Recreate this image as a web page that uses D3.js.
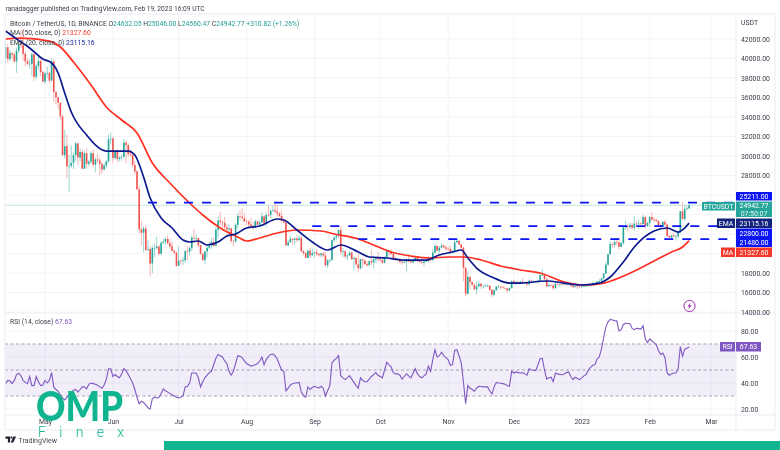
<!DOCTYPE html>
<html>

<head>
  <meta charset="utf-8">
  <script src="https://d3js.org/d3.v7.min.js"></script>
  <style>
    body { margin: 0; background: #fff; }
    svg { display: block; filter: blur(0.35px); }
    text { font-family: Roboto, "Liberation Sans", sans-serif; }
    .axis text { font-size: 6.9px; fill: #3a3e4a; }
  </style>
</head>

<body>
  <svg id="chart" width="780" height="450"></svg>
  <script>
    // daily candles, starting 13 Apr 2022
    const firstDay = "2022-04-13";
    const firstOpen = 40080;

    const closes = [
      41150, 39940, 40550, 40400, 39700, 40800, 41500, 41360, 40480, 39710, 39450, 39450, 40430, 38120, 39240, 39740, 38600, 37630,
      38470, 38530, 37730, 39690, 36550, 36010, 35470, 34040, 30080, 31010, 28940, 28990, 29290, 30100, 31300, 29850, 30420, 28700, 30300, 29200, 29430, 30280, 29100, 29650, 29540, 29200, 28620, 29020, 29460, 31720, 31790,
      29800, 30450, 29700, 29860, 29900, 31370, 31130, 30200, 30110, 29080, 28420, 26570, 22480, 22130, 22570, 20380, 20450, 18970, 20560, 20570, 20720, 19970, 21100, 21230, 21490, 21040, 20730, 20280, 20100, 18730,
      19270, 19240, 19300, 20230, 20190, 20550, 21630, 21590, 21590, 20850, 19960, 19320, 20210, 20580, 20830, 21190, 20780, 22430, 23390, 23220, 23150, 22680, 22450, 22580, 21300, 21240, 22930, 23840, 23770, 23640, 23290,
      23260, 22980, 22810, 22620, 23310, 22960, 23180, 23810, 23150, 23950, 23930, 24400, 24440, 24310, 24100, 23850, 23340, 23190, 20830, 21140, 21520, 21400, 21530, 21370, 21560, 20240, 20040, 19550, 20280, 19800, 20050,
      20130, 19950, 19830, 20000, 19800, 18790, 19290, 19320, 21360, 21650, 21830, 22400, 20170, 20230, 19700, 19800, 20110, 19420, 19540, 18880, 18480, 19400, 19290, 18920, 18800, 19220, 19080, 19410, 19590, 19420,
      19310, 19050, 19620, 20340, 20160, 19950, 19530, 19420, 19440, 19130, 19060, 19155, 19380, 19180, 19070, 19260, 19550, 19330, 19120, 19040, 19165, 19200, 19570, 19330, 20090, 20770, 20300, 20600, 20820, 20630, 20490,
      20480, 20150, 20210, 21150, 21300, 20920, 20600, 18540, 15880, 17600, 17070, 16800, 16330, 16620, 16900, 16660, 16690, 16700, 16700, 16280, 15780, 16230, 16600, 16600, 16520, 16460, 16430, 16210, 16440, 17160,
      16980, 17090, 16890, 17110, 16970, 17090, 16840, 17220, 17130, 17130, 17080, 17210, 17780, 17810, 17360, 16630, 16780, 16740, 16440, 16900, 16820, 16830, 16780, 16840, 16830, 16920, 16700, 16550, 16630, 16600, 16540,
      16620, 16680, 16680, 16850, 16830, 16950, 16940, 17120, 17180, 17440, 17940, 18850, 19930, 20960, 20880, 21190, 21130, 20680, 21080, 22670, 22780, 22710, 22920, 22630, 23060, 23010, 23080, 23030, 23740, 22830, 23130,
      23730, 23490, 23430, 23330, 22930, 22760, 23240, 22960, 21800, 21630, 21860, 21780, 21780, 22200, 24330, 23520, 24570, 24630, 24942.77
    ];

    const highs = [
      41560, 41500, 40880, 40700, 40620, 41130, 41760, 42980, 42980, 40800, 39980, 39930, 40620, 40800, 39460, 40400, 39930, 38800,
      38670, 39170, 38650, 40020, 39840, 36680, 36140, 35510, 34240, 32660, 32160, 30100, 31080, 30340, 31430, 31300, 30780, 30660, 30540, 30770, 29600, 30470, 30660, 29830, 30220, 29850, 29380, 29250, 29550, 32200, 32400,
      31980, 30640, 30690, 29950, 30170, 31770, 31550, 31330, 30700, 30340, 29440, 28550, 26900, 23340, 22800, 22980, 21360, 20780, 20830, 21050, 21720, 20860, 21230, 21520, 21600, 21870, 21520, 21190, 20410, 20140,
      20750, 19430, 19650, 20360, 20750, 20670, 21840, 22500, 21950, 21600, 20860, 20050, 20250, 20880, 21190, 21580, 21690, 22720, 23800, 24280, 23430, 23750, 22990, 22990, 22650, 21350, 23100, 24200, 24440, 24670, 24180,
      23510, 23470, 23650, 23220, 23460, 23350, 23400, 24240, 23920, 24220, 24920, 24450, 24890, 25210, 25050, 24250, 24450, 23600, 23200, 21380, 21800, 21530, 21680, 21900, 21820, 21880, 20350, 20150, 20430, 20580, 20490,
      20210, 20450, 20050, 20060, 20160, 20180, 19460, 19460, 21450, 21800, 21860, 22490, 22800, 20550, 20330, 19900, 20190, 20100, 19690, 19630, 19950, 19500, 19500, 19310, 19180, 19310, 20380, 19790, 19650, 20180,
      19480, 19400, 19720, 20480, 20360, 20450, 20060, 19610, 19560, 19520, 19270, 19220, 19510, 19950, 19210, 19420, 19680, 19700, 19350, 19350, 19250, 19260, 19700, 19600, 20410, 21020, 20870, 20750, 21080, 20930, 20840,
      20700, 20800, 20390, 21480, 21470, 21360, 21060, 20670, 18590, 18160, 17650, 17080, 16930, 17190, 17130, 17000, 16750, 16880, 16820, 16750, 16290, 16310, 16680, 16810, 16610, 16700, 16600, 16480, 16530, 17250,
      17320, 17100, 17160, 17200, 17420, 17110, 17140, 17300, 17300, 17230, 17270, 17240, 18000, 18390, 17850, 17530, 16800, 16860, 16820, 17060, 16920, 16870, 16950, 16870, 16860, 16950, 16970, 16780, 16660, 16650, 16640,
      16630, 16760, 16780, 17000, 16900, 17040, 16970, 17180, 17400, 17490, 18000, 19120, 20000, 21260, 21050, 21470, 21600, 21650, 21190, 22750, 23370, 23080, 23170, 23160, 23820, 23290, 23500, 23180, 23960, 23800, 23310,
      23810, 24250, 23720, 23590, 23430, 23160, 23360, 23450, 23010, 21940, 21900, 22080, 21900, 22320, 24360, 25250, 25020, 24880, 25046
    ];

    const lows = [
      39570, 39550, 39770, 39990, 39550, 38540, 40570, 41070, 39750, 39180, 39280, 38930, 38200, 37700, 37880, 38880, 38170, 37580,
      37390, 38050, 37510, 37670, 35570, 35260, 34780, 33710, 30030, 29730, 27700, 26350, 28750, 28660, 29480, 29090, 29440, 28650, 28680, 28730, 28930, 29220, 28850, 28300, 29290, 28020, 28200, 28450, 28810, 29300, 31210,
      29300, 29590, 29330, 29440, 29500, 29880, 29220, 29850, 29950, 28850, 28100, 26560, 22070, 20830, 20110, 20230, 20240, 17620, 17960, 19640, 20350, 19770, 19890, 20940, 20920, 20950, 20520, 20180, 19850, 18630,
      18970, 18960, 18780, 19040, 19300, 19760, 20240, 21180, 21320, 20650, 19880, 19240, 18910, 19620, 20390, 20490, 20760, 20760, 21580, 22900, 22340, 22430, 21930, 22010, 21040, 20710, 21040, 22580, 23430, 23500, 23230,
      22850, 22660, 22680, 22430, 22590, 22920, 22840, 23150, 22880, 22660, 23850, 23600, 24300, 24160, 23770, 23670, 23180, 23100, 20760, 20760, 21110, 20890, 20890, 21160, 21310, 20110, 19800, 19520, 19540, 19540, 19800,
      19560, 19750, 19650, 19600, 19640, 18650, 18530, 19010, 19300, 21110, 21350, 21560, 19860, 19620, 19500, 19320, 19750, 19340, 18230, 18730, 18130, 18360, 18530, 18820, 18630, 18680, 18820, 18470, 19010, 19160,
      19160, 18920, 18960, 19500, 19730, 19860, 19320, 19260, 19310, 19020, 18860, 19020, 18190, 19070, 18980, 19060, 19160, 19100, 19060, 18900, 18650, 19110, 19070, 19160, 19240, 20050, 20200, 20000, 20550, 20530, 20250,
      20350, 20050, 20030, 20170, 21080, 20880, 20380, 17170, 15590, 15750, 16360, 16680, 16230, 15820, 16530, 16400, 16400, 16560, 16550, 16170, 15480, 15620, 16170, 16460, 16330, 16400, 16400, 15990, 16110, 16430,
      16860, 16790, 16860, 16880, 16870, 16910, 16680, 16740, 17060, 17090, 17070, 16870, 17080, 17660, 17280, 16530, 16580, 16670, 16260, 16400, 16720, 16560, 16750, 16780, 16730, 16790, 16590, 16470, 16490, 16330, 16470,
      16500, 16550, 16610, 16650, 16760, 16680, 16910, 16910, 17100, 17150, 17320, 17920, 18720, 19880, 20550, 20600, 20820, 20400, 20660, 20860, 22420, 22290, 22500, 22460, 22320, 22850, 22530, 22880, 23000, 22550, 22730,
      22760, 23360, 23200, 23250, 22750, 22630, 22740, 22690, 21690, 21450, 21600, 21630, 21350, 21530, 22050, 23510, 23340, 24450, 24560
    ];

    const emaDates = [
      "2022-04-13", "2022-04-20", "2022-04-24", "2022-04-30", "2022-05-04", "2022-05-07", "2022-05-10", "2022-05-13", "2022-05-20", "2022-05-29",
      "2022-06-03", "2022-06-08", "2022-06-11", "2022-06-15", "2022-06-18", "2022-06-23", "2022-06-28", "2022-07-03", "2022-07-06", "2022-07-10",
      "2022-07-14", "2022-07-19", "2022-07-23", "2022-07-27", "2022-08-01", "2022-08-07", "2022-08-15", "2022-08-18", "2022-08-24", "2022-08-31",
      "2022-09-07", "2022-09-13", "2022-09-21", "2022-09-26", "2022-10-04", "2022-10-11", "2022-10-22", "2022-10-28", "2022-11-03", "2022-11-07",
      "2022-11-10", "2022-11-14", "2022-11-22", "2022-11-29", "2022-12-04", "2022-12-16", "2022-12-24", "2022-12-31", "2023-01-09", "2023-01-14",
      "2023-01-20", "2023-01-25", "2023-02-03", "2023-02-09", "2023-02-14", "2023-02-17", "2023-02-19"
    ];
    const emaValues = [
      42820, 41690, 41080, 39950, 39540, 38510, 36460, 34510, 32150, 30510,
      30510, 30510, 30100, 27850, 25690, 23640, 22615, 21380, 21180, 21280,
      20870, 21180, 21800, 22000, 22615, 22820, 23540, 23440, 22410, 21180,
      20360, 20870, 20150, 19640, 19540, 19330, 19330, 19850, 20150, 20360,
      19540, 18510, 17490, 16970, 16970, 17180, 16970, 16770, 16970, 17590,
      19130, 20670, 22310, 22615, 22200, 22615, 23115
    ];

    const maDates = [
      "2022-04-13", "2022-04-20", "2022-05-03", "2022-05-08", "2022-05-14", "2022-05-22", "2022-05-29", "2022-06-05", "2022-06-12", "2022-06-19",
      "2022-06-27", "2022-07-06", "2022-07-12", "2022-07-20", "2022-07-28", "2022-08-01", "2022-08-07", "2022-08-15", "2022-08-24", "2022-09-04",
      "2022-09-10", "2022-09-21", "2022-09-28", "2022-10-06", "2022-10-15", "2022-10-24", "2022-11-01", "2022-11-08", "2022-11-16", "2022-11-25",
      "2022-12-04", "2022-12-13", "2022-12-24", "2023-01-02", "2023-01-11", "2023-01-19", "2023-01-27", "2023-02-03", "2023-02-11", "2023-02-16",
      "2023-02-19"
    ];
    const maValues = [
      42000, 42100, 41790, 41180, 39640, 37280, 35025, 33690, 32360, 29280,
      27230, 25180, 23950, 22615, 21690, 21280, 21590, 22100, 22410, 22310,
      22000, 21490, 20870, 20150, 19740, 19540, 19640, 19640, 19330, 18720,
      18310, 18000, 17080, 16770, 16970, 17590, 18410, 19230, 20150, 20670,
      21327
    ];

    // one reading a day, same days as the candles
    const rsiValues = [
      39.5, 42, 41.5, 39.5, 42, 46.5, 47.5, 45.5, 42, 40.5, 39.5, 45, 38, 38, 45, 41, 38, 38.5, 42, 40,
      42, 48, 37, 35, 33.6, 31, 28.5, 27, 29, 31, 33, 34.5, 35, 33, 35, 37, 37, 35.5, 39, 40,
      39.5, 39, 38.2, 37, 36, 38.5, 43, 51, 51, 45, 46.5, 45, 44, 47, 51, 49.5, 46.5, 43.5, 40, 35,
      29, 24, 26, 25, 23, 21, 20, 28, 29, 28.5, 29, 32, 35.4, 34, 33, 32, 31, 30, 29, 28.5,
      29, 30, 37, 37.3, 40, 47.7, 47.7, 47.7, 44, 37, 41, 44, 46, 48, 49, 54, 59, 62, 61, 60,
      57, 55, 49, 46, 49, 55, 61, 60.5, 59.5, 57, 55, 54, 53, 53.5, 54, 55, 56.7, 60, 54, 58,
      60.5, 62, 62.3, 61, 58.5, 54, 50, 49, 34, 36, 38.5, 39.5, 40, 40, 40.5, 33, 30.5, 29, 37, 35,
      36.5, 37.5, 36.8, 36, 37.5, 36, 30, 34, 38, 55.4, 57.5, 59, 61, 45.6, 44, 42.6, 44, 45.6, 43, 40.5,
      38, 36, 44, 42, 41, 41, 43, 45, 46.5, 48, 46, 45, 44, 50, 56, 54, 52.5, 48, 47, 47,
      46, 43, 45, 47, 45.5, 44, 47.5, 51, 47, 45, 44, 45.5, 47, 53, 49, 58, 65.6, 60, 61, 63.6,
      61, 59.5, 58, 53.6, 54, 65, 65.6, 61, 55.4, 41, 24, 38, 36, 35, 33.6, 36, 37.5, 37.3, 37, 37,
      37, 34, 31.5, 37, 40.5, 40, 39.8, 39.5, 39, 38, 37.5, 49, 47.7, 48.5, 48, 47.7, 48, 47, 46, 51,
      50, 49.8, 49.5, 54, 58.7, 59, 50, 43, 44, 44.5, 41, 47.7, 47, 46.6, 46.4, 47, 48, 48.5, 45, 42.6,
      44.4, 43.5, 42.6, 44, 45.5, 46.5, 50, 52, 53.6, 54, 58.5, 60, 66, 75, 83, 87, 89, 88.5, 88, 87.8,
      80, 81, 85, 86, 85.8, 85.6, 82, 81, 82, 81.8, 81.5, 84, 74, 71, 74, 72.5, 70.8, 69.5, 65, 62,
      63, 59.5, 47.7, 46, 47, 47.7, 47.7, 51, 68, 60.5, 66, 66.8, 67.63
    ];

    const priceTicks = [14000, 16000, 18000, 28000, 30000, 32000, 34000, 36000, 38000, 40000, 42000];
    const gridPrices = d3.range(14000, 44000, 2000);
    const rsiTicks = [20, 40, 60, 80];
    const rsiBands = [70, 50, 30];
    const timeTicks = ["2022-05-01", "2022-06-01", "2022-07-01", "2022-08-01", "2022-09-01", "2022-10-01", "2022-11-01", "2022-12-01", "2023-01-01", "2023-02-01", "2023-03-01"];
    const timeLabels = ["May", "Jun", "Jul", "Aug", "Sep", "Oct", "Nov", "Dec", "2023", "Feb", "Mar"];

    // horizontal levels: price and the day each one starts
    const levelPrices = [25211, 22800, 21480];
    const levelStarts = ["2022-06-17", "2022-08-31", "2022-09-21"];

    const lastPrice = 24942.77;

    const svg = d3.select("#chart");
    const left = 5, right = 736, outer = 775;
    const top_ = 14, mainBottom = 313, rsiBottom = 415, timeBottom = 430;

    const parseDay = d3.utcParse("%Y-%m-%d");
    const x = d3.scaleUtc()
      .domain([parseDay("2022-05-01"), parseDay("2023-03-01")])
      .range([45, 711]);
    const y = d3.scaleLinear().domain([14000, 42000]).range([312, 39]);
    const yRsi = d3.scaleLinear().domain([20, 80]).range([409, 331]);

    const start = parseDay(firstDay);
    const candles = closes.map((c, i) => ({
      date: d3.utcDay.offset(start, i),
      open: i === 0 ? firstOpen : closes[i - 1],
      close: c,
      high: highs[i],
      low: lows[i]
    }));

    const defs = svg.append("defs");
    defs.append("clipPath").attr("id", "mainClip").append("rect")
      .attr("x", left).attr("y", top_).attr("width", right - left).attr("height", mainBottom - top_);

    // grid
    const grid = svg.append("g").attr("stroke", "#f3f4f8").attr("stroke-width", 1);
    grid.selectAll(".gy").data(gridPrices).join("line")
      .attr("x1", left).attr("x2", right)
      .attr("y1", d => y(d)).attr("y2", d => y(d));
    grid.selectAll(".gr").data(rsiTicks).join("line")
      .attr("x1", left).attr("x2", right)
      .attr("y1", d => yRsi(d)).attr("y2", d => yRsi(d));
    grid.selectAll(".gx").data(timeTicks).join("line")
      .attr("x1", d => x(parseDay(d))).attr("x2", d => x(parseDay(d)))
      .attr("y1", top_).attr("y2", rsiBottom);

    // last price line
    svg.append("line")
      .attr("x1", left).attr("x2", right)
      .attr("y1", y(lastPrice)).attr("y2", y(lastPrice))
      .attr("stroke", "#c4e8e2").attr("stroke-width", 1);

    const main = svg.append("g").attr("clip-path", "url(#mainClip)");

    // wicks and bodies
    main.selectAll(".wick").data(candles).join("line")
      .attr("x1", d => x(d.date)).attr("x2", d => x(d.date))
      .attr("y1", d => y(d.high)).attr("y2", d => y(d.low))
      .attr("stroke", d => d.close >= d.open ? "#7fcdc4" : "#f8a5a3")
      .attr("stroke-width", 0.8);
    main.selectAll(".body").data(candles).join("rect")
      .attr("x", d => x(d.date) - 0.8)
      .attr("width", 1.6)
      .attr("y", d => y(Math.max(d.open, d.close)))
      .attr("height", d => Math.max(0.6, Math.abs(y(d.open) - y(d.close))))
      .attr("fill", d => d.close >= d.open ? "#26a69a" : "#ef5350");

    // moving averages
    const curve = d3.line()
      .x(d => x(d[0])).y(d => y(d[1]))
      .curve(d3.curveMonotoneX);
    main.append("path")
      .attr("d", curve(maDates.map((d, i) => [parseDay(d), maValues[i]])))
      .attr("fill", "none").attr("stroke", "#ff2f22").attr("stroke-width", 1.7);
    main.append("path")
      .attr("d", curve(emaDates.map((d, i) => [parseDay(d), emaValues[i]])))
      .attr("fill", "none").attr("stroke", "#0b1a8e").attr("stroke-width", 1.7);

    // dashed levels
    main.selectAll(".level").data(levelPrices).join("line")
      .attr("x1", (d, i) => x(parseDay(levelStarts[i]))).attr("x2", right)
      .attr("y1", d => y(d)).attr("y2", d => y(d))
      .attr("stroke", "#0a14f5").attr("stroke-width", 1.8)
      .attr("stroke-dasharray", "9 9");

    // RSI panel
    svg.append("rect")
      .attr("x", left).attr("width", right - left)
      .attr("y", yRsi(70)).attr("height", yRsi(30) - yRsi(70))
      .attr("fill", "#7e57c2").attr("fill-opacity", 0.1);
    svg.selectAll(".band").data(rsiBands).join("line")
      .attr("x1", left).attr("x2", right)
      .attr("y1", d => yRsi(d)).attr("y2", d => yRsi(d))
      .attr("stroke", "#8f8a9e").attr("stroke-width", 0.8)
      .attr("stroke-dasharray", "3 2.5");
    svg.append("path")
      .attr("d", d3.line().x(d => x(d[0])).y(d => yRsi(d[1]))(rsiValues.map((v, i) => [candles[i].date, v])))
      .attr("fill", "none").attr("stroke", "#7e57c2").attr("stroke-width", 1.1);

    // panel frames
    const frame = svg.append("g").attr("stroke", "#eceef3").attr("stroke-width", 1.2);
    frame.append("rect").attr("x", left).attr("y", top_).attr("width", outer - left).attr("height", timeBottom - top_).attr("fill", "none");
    frame.append("line").attr("x1", left).attr("x2", outer).attr("y1", mainBottom).attr("y2", mainBottom);
    frame.append("line").attr("x1", left).attr("x2", outer).attr("y1", rsiBottom).attr("y2", rsiBottom);
    frame.append("line").attr("x1", right).attr("x2", right).attr("y1", top_).attr("y2", timeBottom);

    // axes
    const priceAxis = d3.axisRight(y).tickValues(priceTicks).tickSize(0).tickPadding(5).tickFormat(d3.format(".2f"));
    svg.append("g").attr("class", "axis").attr("transform", `translate(${right},0)`).call(priceAxis)
      .call(g => g.select(".domain").remove());
    const rsiAxis = d3.axisRight(yRsi).tickValues(rsiTicks).tickSize(0).tickPadding(5).tickFormat(d3.format(".2f"));
    svg.append("g").attr("class", "axis").attr("transform", `translate(${right},0)`).call(rsiAxis)
      .call(g => g.select(".domain").remove());
    const timeAxis = d3.axisBottom(x)
      .tickValues(timeTicks.map(parseDay)).tickSize(0).tickPadding(4)
      .tickFormat((d, i) => timeLabels[i]);
    svg.append("g").attr("class", "axis").attr("transform", `translate(0,${rsiBottom})`).call(timeAxis)
      .call(g => g.select(".domain").remove());

    // header texts
    const label = (px, py, parts, size) => {
      const t = svg.append("text").attr("x", px).attr("y", py).attr("font-size", size || 6.8);
      parts.forEach(p => t.append("tspan").attr("fill", p[1]).text(p[0]));
      return t;
    };
    const ink = "#3a3e4a", up = "#1f9d8f";
    label(5.5, 11, [["ranadagger published on TradingView.com, Feb 19, 2023 16:09 UTC", ink]], 6.67);
    label(10, 26, [
      ["Bitcoin / TetherUS, 1D, BINANCE  ", ink], ["O", ink], ["24632.05 ", up], ["H", ink], ["25046.00 ", up],
      ["L", ink], ["24560.47 ", up], ["C", ink], ["24942.77 ", up], ["+310.82 (+1.26%)", up]
    ], 6.77);
    label(10, 35, [["MA (50, close, 0)  ", ink], ["21327.60", "#f23b30"]]);
    label(10, 45, [["EMA (20, close, 0)  ", ink], ["23115.16", "#12249a"]]);
    label(10, 324, [["RSI (14, close)  ", ink], ["67.63", "#7e57c2"]]);
    label(741, 25, [["USDT", ink]], 6.9);

    // price tags on the right
    const tag = (x0, x1, y0, y1, fill, text) => {
      svg.append("rect").attr("x", x0).attr("y", y0).attr("width", x1 - x0).attr("height", y1 - y0).attr("fill", fill);
      svg.append("text").attr("x", (x0 + x1) / 2).attr("y", (y0 + y1) / 2 + 2.5)
        .attr("text-anchor", "middle").attr("font-size", 6.9).attr("fill", "#fff").text(text);
    };
    tag(736, 772, 192, 200.5, "#0a14f5", "25211.00");
    tag(702, 735, 202, 210.5, "#26a69a", "BTCUSDT");
    tag(736, 772, 201.5, 217, "#26a69a", "");
    svg.append("text").attr("x", 754).attr("y", 208).attr("text-anchor", "middle").attr("font-size", 6.9).attr("fill", "#fff").text("24942.77");
    svg.append("text").attr("x", 754).attr("y", 215.5).attr("text-anchor", "middle").attr("font-size", 6.9).attr("fill", "#e5f5f2").text("07:50:07");
    tag(717, 735, 218.5, 228, "#12237f", "EMA");
    tag(736, 772, 218.5, 228, "#12237f", "23115.16");
    tag(736, 772, 228.5, 238, "#0a14f5", "22800.00");
    tag(736, 772, 238, 247, "#0a14f5", "21480.00");
    tag(721, 735, 247.5, 257, "#f4382c", "MA");
    tag(736, 772, 247.5, 257, "#f4382c", "21327.60");
    tag(720, 735, 342, 351.5, "#7e57c2", "RSI");
    tag(736, 761, 342, 351.5, "#7e57c2", "67.63");

    // lightning marker
    const bolt = svg.append("g").attr("transform", "translate(689.5,306)");
    bolt.append("circle").attr("r", 5.6).attr("fill", "#fff").attr("stroke", "#9c27b0").attr("stroke-width", 1);
    bolt.append("path").attr("d", "M1.2,-3.4 L-2,0.6 L-0.2,0.6 L-1.2,3.4 L2,-0.8 L0.2,-0.8 Z").attr("fill", "#9c27b0");

    // TradingView mark
    const tv = svg.append("g").attr("transform", "translate(5.5,436.5)").attr("fill", "#1e222d");
    tv.append("path").attr("d", "M0,0 H4.6 V6 H2.4 V2.2 H0 Z");
    tv.append("circle").attr("cx", 6).attr("cy", 1.1).attr("r", 1.1);
    tv.append("path").attr("d", "M8,0 H10.6 L7.8,6 H5.2 Z");
    label(18.5, 443, [["TradingView", "#444954"]], 7);

    // OMP Finex watermark and footer band
    const brand = "#10b58f";
    svg.append("rect").attr("x", 164).attr("y", 441).attr("width", 616).attr("height", 9).attr("fill", brand);
    svg.append("text").attr("x", 36).attr("y", 421)
      .attr("font-weight", 900).attr("font-size", 41)
      .attr("textLength", 87).attr("lengthAdjust", "spacingAndGlyphs")
      .attr("fill", brand).style("font-family", "Lato, Roboto").text("OMP");
    svg.append("text").attr("x", 38).attr("y", 437)
      .attr("font-weight", 300).attr("font-size", 14)
      .attr("textLength", 86)
      .attr("fill", brand).text("Finex");
  </script>
</body>

</html>
